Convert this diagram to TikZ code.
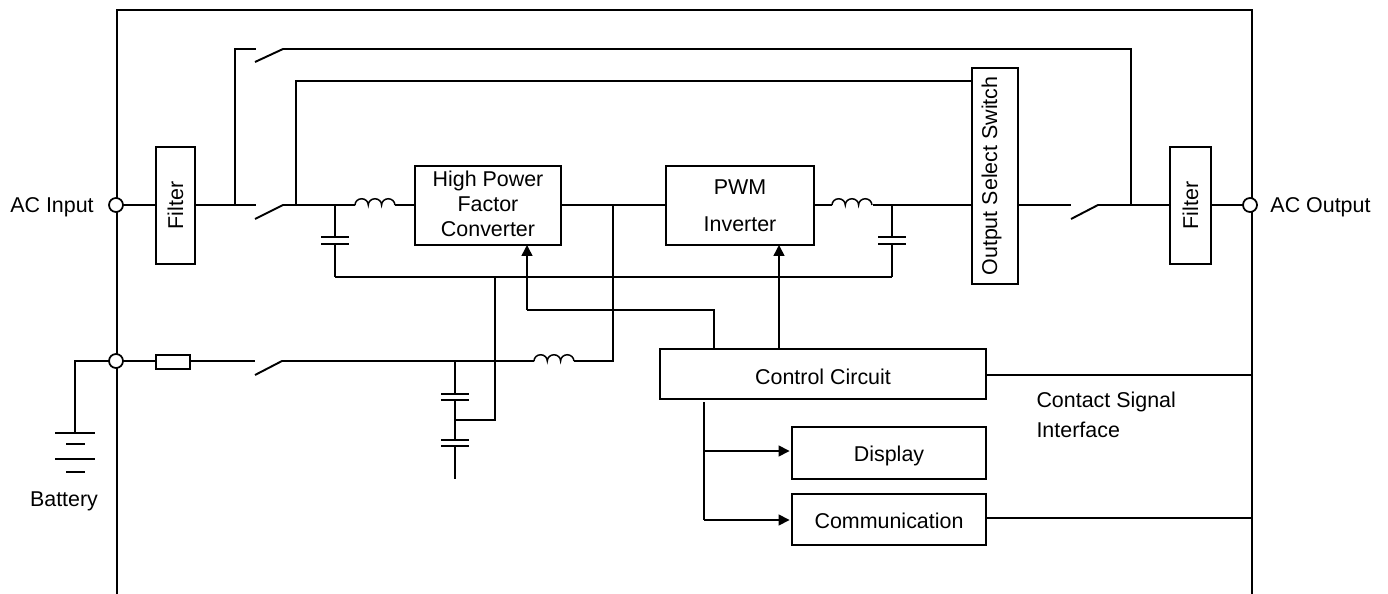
\documentclass[tikz,border=0pt]{standalone}
\usepackage{fontspec}
\setmainfont{Liberation Sans}
\usetikzlibrary{positioning,arrows.meta,calc}
\tikzset{>={Triangle[length=2.2mm,width=2.2mm]}}
\tikzset{wire/.style={line width=1.1pt}}
\tikzset{thinwire/.style={line width=0.85pt}}
\tikzset{blk/.style={draw,line width=1.1pt,inner sep=0,outer sep=0,align=center}}
\tikzset{wh/.style 2 args={minimum width=#1*0.02cm,minimum height=#2*0.02cm}}
\tikzset{lift/.style={text height=#1,text depth=0pt}}
\tikzset{lbl/.style={inner sep=0,outer sep=0,align=left}}
\newcommand{\drawbox}{\node[blk]}
\newcommand{\drawcirc}{\node[draw,circle,fill=white,line width=1pt,minimum size=0.28cm,inner sep=0,outer sep=0]}
\newcommand{\drawplate}[1]{\draw[thinwire] ($(#1)+(-14,0)$) -- ($(#1)+(14,0)$);}
\newcommand{\drawcoil}[1]{\draw[thinwire] (#1) arc[start angle=180,end angle=0,x radius=0.133cm,y radius=0.125cm] arc[start angle=180,end angle=0,x radius=0.133cm,y radius=0.125cm] arc[start angle=180,end angle=0,x radius=0.133cm,y radius=0.125cm];}

\begin{document}
\begin{tikzpicture}[x=0.02cm,y=-0.02cm,font=\fontsize{12.2}{14.2}\selectfont]
	\useasboundingbox (0,0) rectangle (1388,594);

	\coordinate (fbl) at (117,594);
	\coordinate (ftl) at (117,10);
	\coordinate (ftr) at (1252,10);
	\coordinate (fbr) at (1252,594);
	\draw[wire] (fbl) -- (ftl) -- (ftr) -- (fbr);

	% blocks
	\drawbox[wh={117}{39},rotate=90] (filta) at (175.5,205.5) {Filter};
	\drawbox[wh={117}{41},rotate=90] (filtb) at (1190.5,205.5) {Filter};
	\drawbox[wh={216}{46},rotate=90,text depth=6.3pt] (oss) at (995,176) {Output Select Switch};
	\drawbox[wh={146}{79},text depth=1.8pt] (hpfc) at (488,205.5) {High Power\\Factor\\Converter};
	\drawbox[wh={148}{79}] (inv) at (740,205.5) {PWM\\[7pt]Inverter};
	\drawbox[wh={326}{50},lift=11.4pt] (ctrl) at (823,374) {Control Circuit};
	\drawbox[wh={194}{52},lift=10.2pt] (disp) at (889,453) {Display};
	\drawbox[wh={194}{51},lift=10.8pt] (comm) at (889,519.5) {Communication};
	\drawbox[wh={34}{14},line width=0.85pt] (fuse) at (173,362) {};

	\drawcirc (acin) at (116,205) {};
	\drawcirc (acout) at (1250,205) {};
	\drawcirc (batin) at (116,361) {};

	\node[lbl] (acinl) at (52,207.6) {AC Input};
	\node[lbl] (acoutl) at (1320.5,207.6) {AC Output};
	\node[lbl] (batl) at (64,501.6) {Battery};
	\node[lbl,anchor=west] (csl) at (1036.5,401.6) {Contact Signal};
	\node[lbl,anchor=west] (ifl) at (1036.5,430.3) {Interface};

	% input side
	\coordinate (ja) at (235,205);
	\coordinate (jat) at (235,49);
	\coordinate (swal) at (256,49);
	\coordinate (swab) at (255,62);
	\coordinate (swar) at (283,49);
	\coordinate (jb) at (1131,49);
	\coordinate (jbd) at (1131,205);
	\coordinate (swbl) at (256,205);
	\coordinate (swbb) at (255,219);
	\coordinate (swbr) at (283,205);
	\coordinate (jc) at (296,205);
	\coordinate (jct) at (296,81);
	\coordinate (capa) at (335,205);
	\coordinate (capat) at (335,237);
	\coordinate (capab) at (335,244);
	\coordinate (gnda) at (335,277);
	\coordinate (coila) at (355,205);
	\coordinate (coilae) at (395,205);

	\draw[wire] (acin) -- (filta.north |- acin);
	\draw[wire] (filta.south |- swbl) -- (swbl);
	\draw[wire] (ja) -- (jat) -- (swal);
	\draw[wire] (swab) -- (swar) -- (jb) -- (jbd);
	\draw[wire] (swbb) -- (swbr) -- (capa) -- (coila);
	\draw[wire] (jc) -- (jct) -- (oss.north |- jct);
	\draw[thinwire] (capa) -- (capat);
	\draw[thinwire] (capab) -- (gnda);
	\drawplate{capat}
	\drawplate{capab}
	\drawcoil{coila}
	\draw[wire] (coilae) -- (hpfc.west |- coilae);

	% output side
	\coordinate (coilb) at (832,205);
	\coordinate (coilbe) at (873,205);
	\coordinate (capb) at (892,205);
	\coordinate (capbt) at (892,237);
	\coordinate (capbb) at (892,244);
	\coordinate (gndb) at (892,277);
	\coordinate (swcl) at (1071,205);
	\coordinate (swcb) at (1071,219);
	\coordinate (swcr) at (1098,205);
	\coordinate (jd) at (613,205);
	\coordinate (jdb) at (613,361);
	\coordinate (gndc) at (495,277);

	\draw[wire] (hpfc.east |- jd) -- (inv.west |- jd);
	\draw[wire] (inv.east |- coilb) -- (coilb);
	\drawcoil{coilb}
	\draw[wire] (coilbe) -- (capb) -- (oss.north |- capb);
	\draw[thinwire] (capb) -- (capbt);
	\draw[thinwire] (capbb) -- (gndb);
	\drawplate{capbt}
	\drawplate{capbb}
	\draw[wire] (gnda) -- (gndb);
	\draw[wire] (oss.south |- swcl) -- (swcl);
	\draw[wire] (swcb) -- (swcr) -- (filtb.north |- swcr);
	\draw[wire] (filtb.south |- acout) -- (acout);

	% battery
	\coordinate (batc) at (75,361);
	\coordinate (swdl) at (255,361);
	\coordinate (swdb) at (255,375);
	\coordinate (swdr) at (282,361);
	\coordinate (capc) at (455,361);
	\coordinate (capct) at (455,394);
	\coordinate (capcb) at (455,400);
	\coordinate (jf) at (455,420);
	\coordinate (jfr) at (495,420);
	\coordinate (capdt) at (455,440);
	\coordinate (capdb) at (455,446);
	\coordinate (capde) at (455,479);
	\coordinate (coilc) at (534,361);
	\coordinate (coilce) at (574,361);
	\coordinate (bata) at (75,433);
	\coordinate (batb) at (75,444);
	\coordinate (batd) at (75,459);
	\coordinate (bate) at (75,472);

	\draw[wire] (batin) -- (batc) -- (bata);
	\draw[wire] ($(bata)+(-20,0)$) -- ($(bata)+(20,0)$);
	\draw[wire] ($(batb)+(-9,0)$) -- ($(batb)+(10,0)$);
	\draw[wire] ($(batd)+(-20,0)$) -- ($(batd)+(20,0)$);
	\draw[wire] ($(bate)+(-9,0)$) -- ($(bate)+(10,0)$);
	\draw[wire] (batin) -- (fuse.west |- batin);
	\draw[wire] (fuse.east |- swdl) -- (swdl);
	\draw[wire] (swdb) -- (swdr) -- (coilc);
	\drawcoil{coilc}
	\draw[wire] (coilce) -- (jdb) -- (jd);
	\draw[thinwire] (capc) -- (capct);
	\draw[thinwire] (capcb) -- (capdt);
	\draw[thinwire] (capdb) -- (capde);
	\drawplate{capct}
	\drawplate{capcb}
	\drawplate{capdt}
	\drawplate{capdb}
	\draw[wire] (jf) -- (jfr) -- (gndc);

	% control
	\coordinate (fbk) at (714,310);
	\coordinate (fbkl) at (527,310);
	\coordinate (invsig) at (779,300);
	\coordinate (ctrlout) at (704,402);
	\coordinate (tapd) at (704,451);
	\coordinate (tapc) at (704,520);
	\coordinate (sigc) at (1252,375);
	\coordinate (sigd) at (1252,518);

	\draw[thinwire] (ctrl.north -| fbk) -- (fbk) -- (fbkl);
	\draw[thinwire,->] (fbkl) -- (hpfc.south -| fbkl);
	\draw[thinwire,->] (ctrl.north -| invsig) -- (inv.south -| invsig);
	\draw[wire] (ctrlout) -- (tapd) -- (tapc);
	\draw[thinwire,->,shorten >=1.4pt] (tapd) -- (disp.west |- tapd);
	\draw[thinwire,->,shorten >=1.4pt] (tapc) -- (comm.west |- tapc);
	\draw[wire] (ctrl.east |- sigc) -- (sigc);
	\draw[thinwire] (comm.east |- sigd) -- (sigd);
\end{tikzpicture}
\end{document}
